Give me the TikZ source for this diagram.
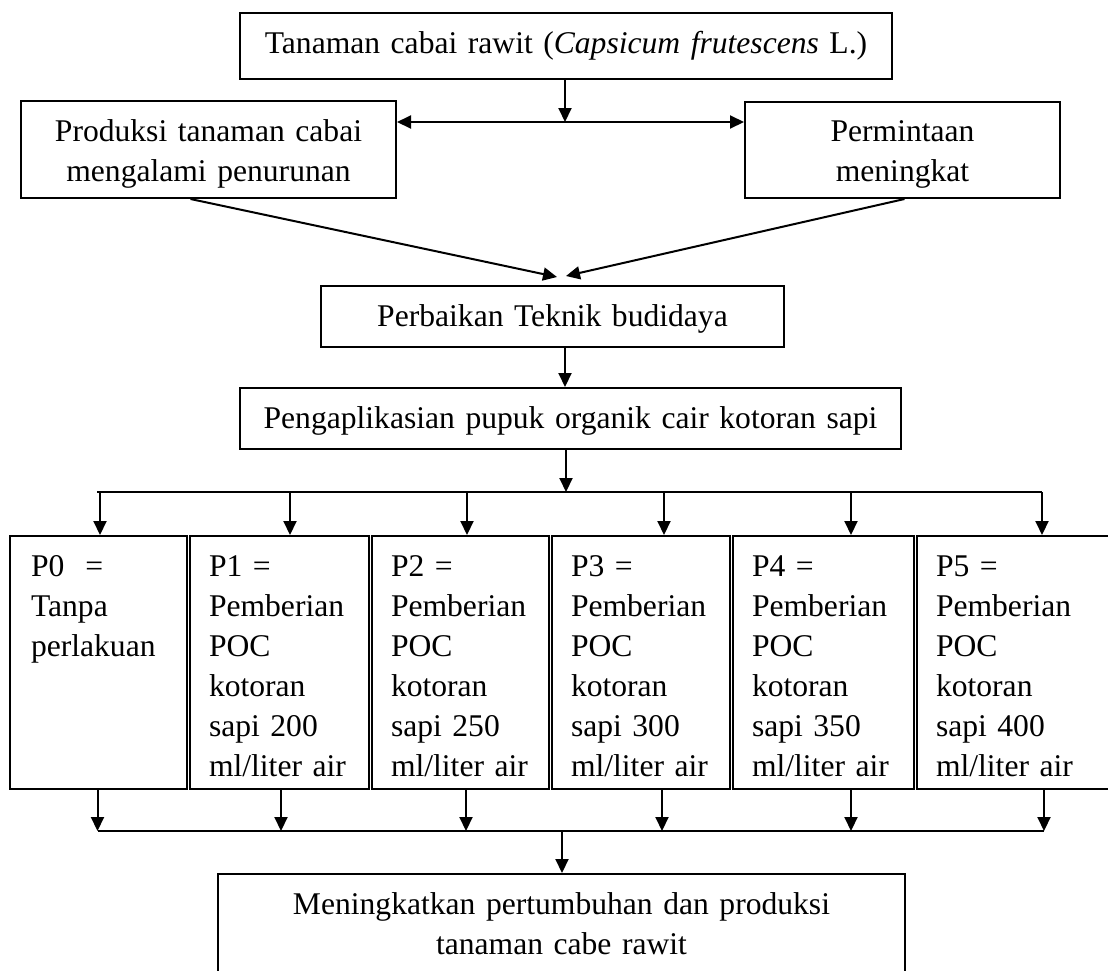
\documentclass[tikz,border=0pt]{standalone}
\usepackage{fontspec}
\setmainfont{Liberation Serif}
\usetikzlibrary{arrows.meta,calc}

\begin{document}
\begin{tikzpicture}[x=1pt,y=-1pt,
  font=\fontsize{31.6}{40}\selectfont,
  box/.style={draw,line width=2pt,anchor=north west,inner sep=0pt,align=center,text height=40pt},
  pbox/.style={draw,line width=2pt,anchor=north west,inner xsep=19pt,inner ysep=0pt,align=left,text height=40pt,text depth=213pt},
  arr/.style={line width=2pt,-{Triangle[length=14pt,width=13pt]}},
  dbl/.style={line width=2pt,{Triangle[length=14pt,width=13pt]}-{Triangle[length=14pt,width=13pt]}},
  thinline/.style={line width=1.4pt}]
\useasboundingbox (0,0) rectangle (1108,970);
\clip (0,0) rectangle (1108,970);

% boxes
\node[box,text width=652pt,text depth=26pt] (top) at (239,12) {Tanaman cabai rawit (\textit{Capsicum frutescens} L.)};
\node[box,text width=375pt,text depth=57pt] (prod) at (20,100) {Produksi tanaman cabai\\mengalami penurunan};
\node[box,text width=315pt,text height=39pt,text depth=57pt] (minta) at (744,101) {Permintaan\\meningkat};
\node[box,text width=463pt,text depth=21pt] (perb) at (320,285) {Perbaikan Teknik budidaya};
\node[box,text width=661pt,text depth=21pt] (peng) at (239,387) {Pengaplikasian pupuk organik cair kotoran sapi};

\node[pbox,text width=139pt] (p0) at (9,535) {\hspace*{2pt}P0 \ =\\\hspace*{2pt}Tanpa\\\hspace*{2pt}perlakuan};
\node[pbox,text width=141pt] (p1) at (189,535) {P1 =\\Pemberian\\POC\\kotoran\\sapi 200\\ml/liter air};
\node[pbox,text width=139pt] (p2) at (371,535) {P2 =\\Pemberian\\POC\\kotoran\\sapi 250\\ml/liter air};
\node[pbox,text width=140pt] (p3) at (551,535) {P3 =\\Pemberian\\POC\\kotoran\\sapi 300\\ml/liter air};
\node[pbox,text width=143pt] (p4) at (732,535) {P4 =\\Pemberian\\POC\\kotoran\\sapi 350\\ml/liter air};
\node[pbox,text width=162pt] (p5) at (916,535) {P5 =\\Pemberian\\POC\\kotoran\\sapi 400\\ml/liter air};

\node[box,text width=687pt,text depth=100pt] (hasil) at (217,873) {Meningkatkan pertumbuhan dan produksi\\tanaman cabe rawit};

% top connectors
\coordinate (j1) at (565,122);
\draw[arr] (top.south -| j1) -- (j1);
\draw[dbl] (prod.east |- j1) -- (minta.west |- j1);
\coordinate (m1) at (557,277);
\coordinate (m2) at (566,276);
\draw[arr] ([xshift=-18pt]prod.south) -- (m1);
\draw[arr] ([xshift=2pt]minta.south) -- (m2);
\draw[arr] (perb.south -| j1) -- (peng.north -| j1);

% distribution
\coordinate (h1) at (566,492);
\draw[arr] (peng.south -| h1) -- (h1);
\coordinate (a0) at (100,492);
\coordinate (a1) at (290,492);
\coordinate (a2) at (467,492);
\coordinate (a3) at (664,492);
\coordinate (a4) at (851,492);
\coordinate (a5) at (1042,492);
\draw[thinline] (97,492) -- (a5);
\draw[arr] (a0) -- (a0 |- p0.north);
\draw[arr] (a1) -- (a1 |- p1.north);
\draw[arr] (a2) -- (a2 |- p2.north);
\draw[arr] (a3) -- (a3 |- p3.north);
\draw[arr] (a4) -- (a4 |- p4.north);
\draw[arr] (a5) -- (a5 |- p5.north);

% collection
\coordinate (b0) at (97.5,831);
\coordinate (b1) at (281,831);
\coordinate (b2) at (466,831);
\coordinate (b3) at (662,831);
\coordinate (b4) at (851,831);
\coordinate (b5) at (1044,831);
\draw[arr] (b0 |- p0.south) -- (b0);
\draw[arr] (b1 |- p1.south) -- (b1);
\draw[arr] (b2 |- p2.south) -- (b2);
\draw[arr] (b3 |- p3.south) -- (b3);
\draw[arr] (b4 |- p4.south) -- (b4);
\draw[arr] (b5 |- p5.south) -- (b5);
\draw[thinline] (b0) -- (b5);
\coordinate (bc) at (562,831);
\draw[arr] (bc) -- (bc |- hasil.north);
\end{tikzpicture}
\end{document}
